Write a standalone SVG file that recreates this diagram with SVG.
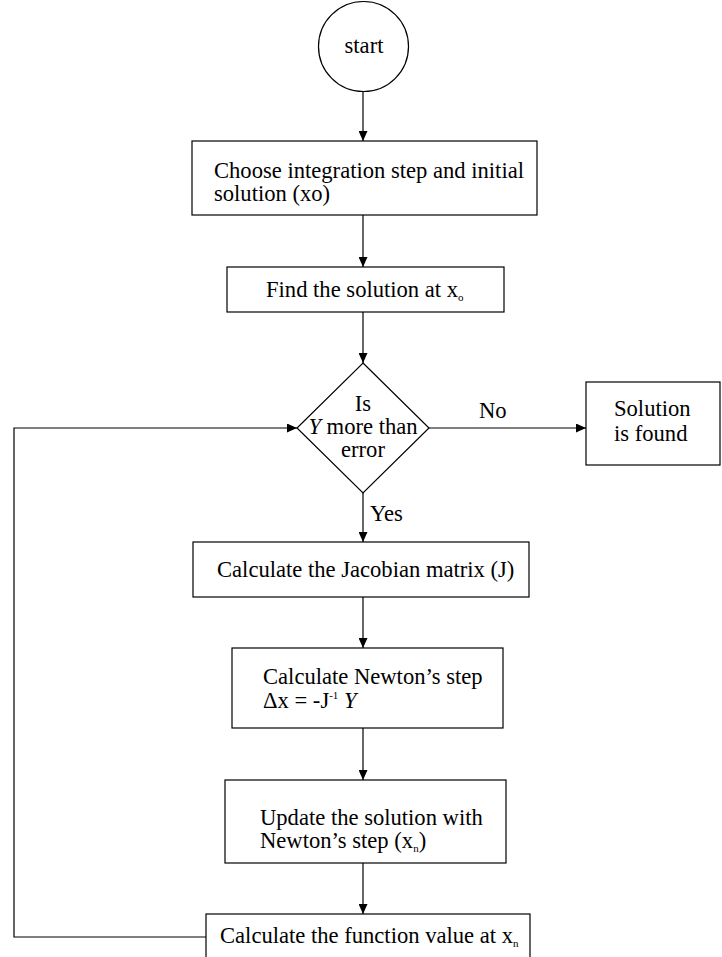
<svg xmlns="http://www.w3.org/2000/svg" width="722" height="957" viewBox="0 0 722 957">
  <style>
    .shape { fill: #ffffff; stroke: #000000; stroke-width: 1.2; }
    .wire { fill: none; stroke: #000000; stroke-width: 1.2; }
    text { font-family: "Liberation Serif", "Times New Roman", serif; font-size: 22.6px; fill: #000000; }
    .mid { text-anchor: middle; }
    .sub { font-size: 11px; }
    .it { font-style: italic; }
  </style>
  <defs>
    <marker id="arrow" markerUnits="userSpaceOnUse" markerWidth="10" markerHeight="9" refX="10" refY="4.5" orient="auto">
      <path d="M0,0 L10,4.5 L0,9 Z" fill="#000000"/>
    </marker>
  </defs>

  <rect width="722" height="957" fill="#ffffff"/>

  <!-- connectors -->
  <g id="connectors">
    <line class="wire" x1="363" y1="91" x2="363" y2="141" marker-end="url(#arrow)"/>
    <line class="wire" x1="363" y1="215" x2="363" y2="267" marker-end="url(#arrow)"/>
    <line class="wire" x1="363" y1="312" x2="363" y2="363" marker-end="url(#arrow)"/>
    <line class="wire" x1="429" y1="428" x2="586" y2="428" marker-end="url(#arrow)"/>
    <line class="wire" x1="363" y1="493" x2="363" y2="542" marker-end="url(#arrow)"/>
    <line class="wire" x1="363" y1="597" x2="363" y2="648" marker-end="url(#arrow)"/>
    <line class="wire" x1="363" y1="728" x2="363" y2="780" marker-end="url(#arrow)"/>
    <line class="wire" x1="363" y1="863" x2="363" y2="914" marker-end="url(#arrow)"/>
    <polyline class="wire" points="206,937 14,937 14,428 297,428" marker-end="url(#arrow)"/>
    <text x="479" y="418">No</text>
    <text x="370" y="521">Yes</text>
  </g>

  <!-- start terminal -->
  <g id="start">
    <circle class="shape" cx="363.5" cy="46.5" r="45"/>
    <text class="mid" x="364" y="53">start</text>
  </g>

  <!-- initialisation -->
  <g id="init">
    <rect class="shape" x="192" y="141" width="345" height="74"/>
    <text x="214" y="178">Choose integration step and initial</text>
    <text x="214" y="201">solution (xo)</text>
  </g>

  <g id="find-x0">
    <rect class="shape" x="227" y="267" width="277" height="45"/>
    <text x="266" y="297">Find the solution at x<tspan class="sub" dy="4">o</tspan></text>
  </g>

  <!-- convergence test -->
  <g id="decision">
    <polygon class="shape" points="363,363 429,428 363,493 297,428"/>
    <text class="mid" x="363" y="411">Is</text>
    <text class="mid" x="363" y="434"><tspan class="it">Y</tspan> more than</text>
    <text class="mid" x="363" y="457">error</text>
  </g>

  <g id="done">
    <rect class="shape" x="586" y="382" width="134" height="83"/>
    <text x="614" y="416">Solution</text>
    <text x="614" y="441">is found</text>
  </g>

  <g id="jacobian">
    <rect class="shape" x="193" y="542" width="336" height="55"/>
    <text x="217" y="577">Calculate the Jacobian matrix (J)</text>
  </g>

  <g id="newton-step">
    <rect class="shape" x="232" y="648" width="271" height="80"/>
    <text x="263" y="684">Calculate Newton’s step</text>
    <text x="263" y="708">Δx = -J<tspan class="sub" dy="-9">-1</tspan><tspan dy="9"> </tspan><tspan class="it">Y</tspan></text>
  </g>

  <g id="update">
    <rect class="shape" x="225" y="780" width="281" height="83"/>
    <text x="260" y="825">Update the solution with</text>
    <text x="260" y="848">Newton’s step (x<tspan class="sub" dy="4">n</tspan><tspan dy="-4">)</tspan></text>
  </g>

  <g id="function-value">
    <rect class="shape" x="206" y="914" width="324" height="46"/>
    <text x="220" y="943">Calculate the function value at x<tspan class="sub" dy="4">n</tspan></text>
  </g>
</svg>
